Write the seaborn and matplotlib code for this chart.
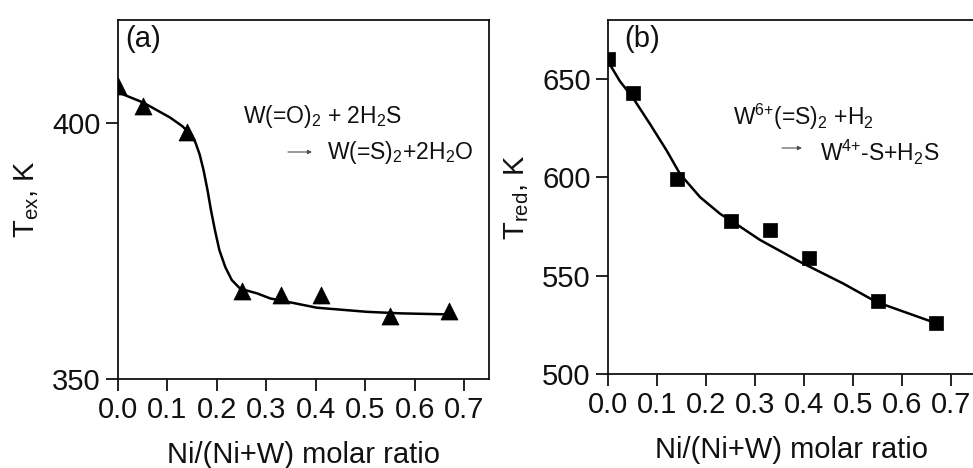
import matplotlib
matplotlib.use("Agg")
import matplotlib.pyplot as plt
import seaborn as sns
import pandas as pd

# ---- data ----
ratio = [0.0, 0.05, 0.14, 0.25, 0.33, 0.41, 0.55, 0.67]
t_ex = [407.2, 403.3, 398.2, 367.1, 366.3, 366.3, 362.3, 363.2]
t_red = [660.0, 643.1, 599.2, 578.0, 573.0, 559.1, 537.1, 526.0]

# fitted curves, points
fit_a_x = [0.0, 0.051, 0.105, 0.130, 0.149, 0.157, 0.165, 0.173, 0.181, 0.188,
           0.196, 0.205, 0.217, 0.230, 0.247, 0.281, 0.308, 0.335, 0.402,
           0.503, 0.571, 0.665]
fit_a_y = [405.9, 403.9, 401.0, 399.3, 397.5, 396.0, 393.8, 390.7, 386.8, 382.9,
           379.0, 375.1, 371.8, 369.3, 367.6, 366.7, 365.7, 365.2, 363.9,
           363.1, 362.8, 362.6]
fit_b_x = [0.0, 0.012, 0.024, 0.052, 0.086, 0.120, 0.147, 0.188, 0.229, 0.256,
           0.31, 0.392, 0.48, 0.548, 0.671]
fit_b_y = [659.0, 654.0, 649.0, 640.0, 627.0, 613.5, 601.7, 589.9, 581.4, 577.2,
           568.2, 557.0, 546.0, 536.6, 525.7]

xticks = [0.0, 0.1, 0.2, 0.3, 0.4, 0.5, 0.6, 0.7]
xtick_labels = ["0.0", "0.1", "0.2", "0.3", "0.4", "0.5", "0.6", "0.7"]
yticks_a = [350, 400]
yticks_b = [500, 550, 600, 650]

sns.set_style("ticks")
plt.rcParams["font.family"] = ["Liberation Sans", "DejaVu Sans"]
plt.rcParams["mathtext.default"] = "regular"
plt.rcParams["axes.linewidth"] = 1.3
plt.rcParams["lines.solid_joinstyle"] = "round"
for key in ["text.color", "axes.labelcolor", "xtick.color", "ytick.color",
            "axes.edgecolor"]:
    plt.rcParams[key] = "#111111"

FS = 21
fig = plt.figure(figsize=(9.73, 4.68), dpi=100)
ax_a = fig.add_axes([118 / 973, 89 / 468, 371 / 973, 359 / 468])
ax_b = fig.add_axes([608 / 973, 94 / 468, 367.5 / 973, 354 / 468])

df_a = pd.DataFrame({"x": ratio, "y": t_ex})
df_b = pd.DataFrame({"x": ratio, "y": t_red})
fa = pd.DataFrame({"x": fit_a_x, "y": fit_a_y})
fb = pd.DataFrame({"x": fit_b_x, "y": fit_b_y})

sns.lineplot(data=fa, x="x", y="y", ax=ax_a, color="black", lw=1.8,
             sort=False, estimator=None)
sns.scatterplot(data=df_a, x="x", y="y", ax=ax_a, marker="^", s=150,
                color="black", edgecolor="black", linewidth=0.5, zorder=3)
sns.lineplot(data=fb, x="x", y="y", ax=ax_b, color="black", lw=1.8,
             sort=False, estimator=None)
sns.scatterplot(data=df_b, x="x", y="y", ax=ax_b, marker="s", s=90,
                color="black", edgecolor="black", linewidth=0.5, zorder=3)

for ax, yt, ylim, ylab in [
    (ax_a, yticks_a, (350, 420), "T$_{ex}$, K"),
    (ax_b, yticks_b, (500, 680), "T$_{red}$, K"),
]:
    ax.set_xlim(0, 0.75)
    ax.set_ylim(*ylim)
    ax.set_xticks(xticks)
    ax.set_xticklabels(xtick_labels)
    ax.set_yticks(yt)
    ax.tick_params(axis="both", direction="out", length=8.5, width=1.3,
                   labelsize=FS, pad=4, top=False, right=False)
    ax.set_xlabel("Ni/(Ni+W) molar ratio", fontsize=FS, labelpad=12)
    ax.set_ylabel(ylab, fontsize=FS, labelpad=8)
    for sp in ax.spines.values():
        sp.set_visible(True)
        sp.set_linewidth(1.3)

ax_a.text(0.02, 0.985, "(a)", transform=ax_a.transAxes, fontsize=FS,
          ha="left", va="top")
ax_b.text(0.045, 0.985, "(b)", transform=ax_b.transAxes, fontsize=FS,
          ha="left", va="top")

AFS = 16.5
# annotation (a)
ax_a.text((243 - 118) / 371, (448 - 103 - 89) / 359, "W(=O)$_2$ + 2H$_2$S",
          transform=ax_a.transAxes, fontsize=AFS, ha="left", va="baseline")
ax_a.text((327 - 118) / 371, (448 - 139 - 89) / 359, "W(=S)$_2$+2H$_2$O",
          transform=ax_a.transAxes, fontsize=AFS, ha="left", va="baseline")
ax_a.annotate("", xy=((312 - 118) / 371, (448 - 132 - 89) / 359),
              xytext=((288 - 118) / 371, (448 - 132 - 89) / 359),
              xycoords="axes fraction", textcoords="axes fraction",
              arrowprops=dict(arrowstyle="-|>", lw=0.8, color="0.3",
                              mutation_scale=6, shrinkA=0, shrinkB=0))
# annotation (b)
ax_b.text((733 - 608) / 367.5, (448 - 105 - 94) / 354,
          "W$^{6{+}}$(=S)$_2$ +H$_2$",
          transform=ax_b.transAxes, fontsize=AFS, ha="left", va="baseline")
ax_b.text((820 - 608) / 367.5, (448 - 141 - 94) / 354, "W$^{4{+}}$-S+H$_2$S",
          transform=ax_b.transAxes, fontsize=AFS, ha="left", va="baseline")
ax_b.annotate("", xy=((802 - 608) / 367.5, (448 - 128 - 94) / 354),
              xytext=((782 - 608) / 367.5, (448 - 128 - 94) / 354),
              xycoords="axes fraction", textcoords="axes fraction",
              arrowprops=dict(arrowstyle="-|>", lw=0.8, color="0.3",
                              mutation_scale=6, shrinkA=0, shrinkB=0))

fig.savefig("out.png", dpi=100)
